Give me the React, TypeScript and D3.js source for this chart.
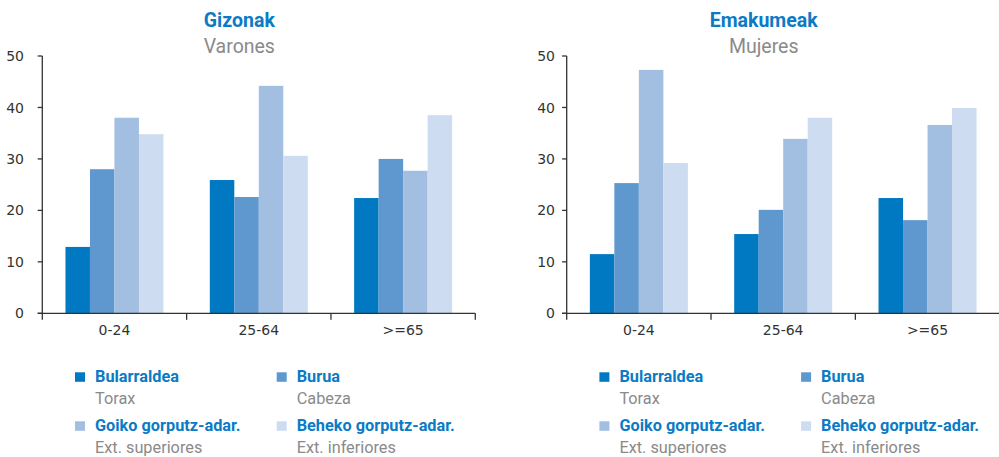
import React from "react";
import * as d3 from "d3";

// Age groups on the x axis
const ageGroups = ["0-24", "25-64", ">=65"];

// Body region series (Basque label, Spanish label)
const seriesNames = ["Bularraldea", "Burua", "Goiko gorputz-adar.", "Beheko gorputz-adar."];
const seriesSubNames = ["Torax", "Cabeza", "Ext. superiores", "Ext. inferiores"];
const seriesColors = ["#0179c2", "#5f97cf", "#a2bfe2", "#cddcf0"];

// Percentages per age group, one value per series
const menValues = [
  [12.9, 28.0, 38.0, 34.8],
  [25.9, 22.6, 44.2, 30.6],
  [22.4, 30.0, 27.7, 38.5],
];
const womenValues = [
  [11.5, 25.3, 47.3, 29.2],
  [15.4, 20.1, 33.9, 38.0],
  [22.4, 18.1, 36.6, 39.9],
];

const yTicks = [0, 10, 20, 30, 40, 50];

const FONT = "Roboto, 'Liberation Sans', Arial, sans-serif";
const TICK_FONT = "'DejaVu Sans', Verdana, sans-serif";
const BLUE = "#0a7bc4";
const GREY = "#8a8a8a";
const AXIS = "#333333";

type PanelProps = {
  left: number;
  title: string;
  subtitle: string;
  values: number[][];
  labelGap: number;
};

function Panel({ left, title, subtitle, values, labelGap }: PanelProps) {
  const plotW = 433;
  const top = 56;
  const bottom = 313.3;
  const y = d3.scaleLinear().domain([0, 50]).range([bottom, top]);
  const x = d3.scaleBand<string>().domain(ageGroups).range([left, left + plotW]).padding(0);
  const groupW = 98;
  const inner = d3
    .scaleBand<string>()
    .domain(seriesNames)
    .range([0, groupW])
    .padding(0);
  const boundaries = [...ageGroups.map((g) => x(g) as number), left + plotW];

  return (
    <g>
      <text x={left + 197} y={26.7} textAnchor="middle" fontFamily={FONT} fontWeight="bold" fontSize={19.5} fill={BLUE}>
        {title}
      </text>
      <text x={left + 197} y={53.3} textAnchor="middle" fontFamily={FONT} fontSize={19.5} fill={GREY}>
        {subtitle}
      </text>

      {/* bars */}
      {ageGroups.map((g, gi) => {
        const gx = (x(g) as number) + (x.bandwidth() - groupW) / 2;
        return (
          <g key={g}>
            {seriesNames.map((s, si) => {
              const v = values[gi][si];
              return (
                <rect
                  key={s}
                  x={gx + (inner(s) as number)}
                  y={y(v)}
                  width={inner.bandwidth()}
                  height={bottom - y(v)}
                  fill={seriesColors[si]}
                />
              );
            })}
          </g>
        );
      })}

      {/* y axis */}
      <line x1={left} x2={left} y1={top} y2={bottom} stroke={AXIS} strokeWidth={1.3} />
      {yTicks.map((t) => (
        <g key={t}>
          <line x1={left - 4.6} x2={left} y1={y(t)} y2={y(t)} stroke={AXIS} strokeWidth={1.3} />
          <text
            x={left - labelGap}
            y={y(t)}
            dy="0.36em"
            textAnchor="end"
            fontFamily={TICK_FONT}
            fontSize={14}
            fill={AXIS}
          >
            {t}
          </text>
        </g>
      ))}

      {/* x axis */}
      <line x1={left - 4.6} x2={left + plotW} y1={bottom} y2={bottom} stroke={AXIS} strokeWidth={1.3} />
      {boundaries.map((bx, i) => (
        <line key={i} x1={bx} x2={bx} y1={bottom} y2={bottom + 6.5} stroke={AXIS} strokeWidth={1.3} />
      ))}
      {ageGroups.map((g) => (
        <text
          key={g}
          x={(x(g) as number) + x.bandwidth() / 2}
          y={335}
          textAnchor="middle"
          fontFamily={TICK_FONT}
          fontSize={14}
          fill={AXIS}
        >
          {g}
        </text>
      ))}

      {/* legend */}
      {seriesNames.map((s, i) => {
        const col = i % 2;
        const row = Math.floor(i / 2);
        const lx = left + 32.7 + col * 201.7;
        const ly = 382 + row * 49;
        return (
          <g key={s}>
            <rect x={lx} y={ly - 9.7} width={10} height={9.5} fill={seriesColors[i]} />
            <text x={lx + 20} y={ly} fontFamily={FONT} fontWeight="bold" fontSize={16.3} fill={BLUE}>
              {s}
            </text>
            <text x={lx + 20} y={ly + 22} fontFamily={FONT} fontSize={16.3} fill={GREY}>
              {seriesSubNames[i]}
            </text>
          </g>
        );
      })}
    </g>
  );
}

export default function App() {
  return (
    <div style={{ position: "absolute", left: 0, top: 0 }}>
      <svg width={999} height={457} style={{ display: "block", background: "#ffffff" }}>
        <Panel left={42.3} title="Gizonak" subtitle="Varones" values={menValues} labelGap={18.3} />
        <Panel left={566.7} title="Emakumeak" subtitle="Mujeres" values={womenValues} labelGap={11.7} />
      </svg>
    </div>
  );
}
